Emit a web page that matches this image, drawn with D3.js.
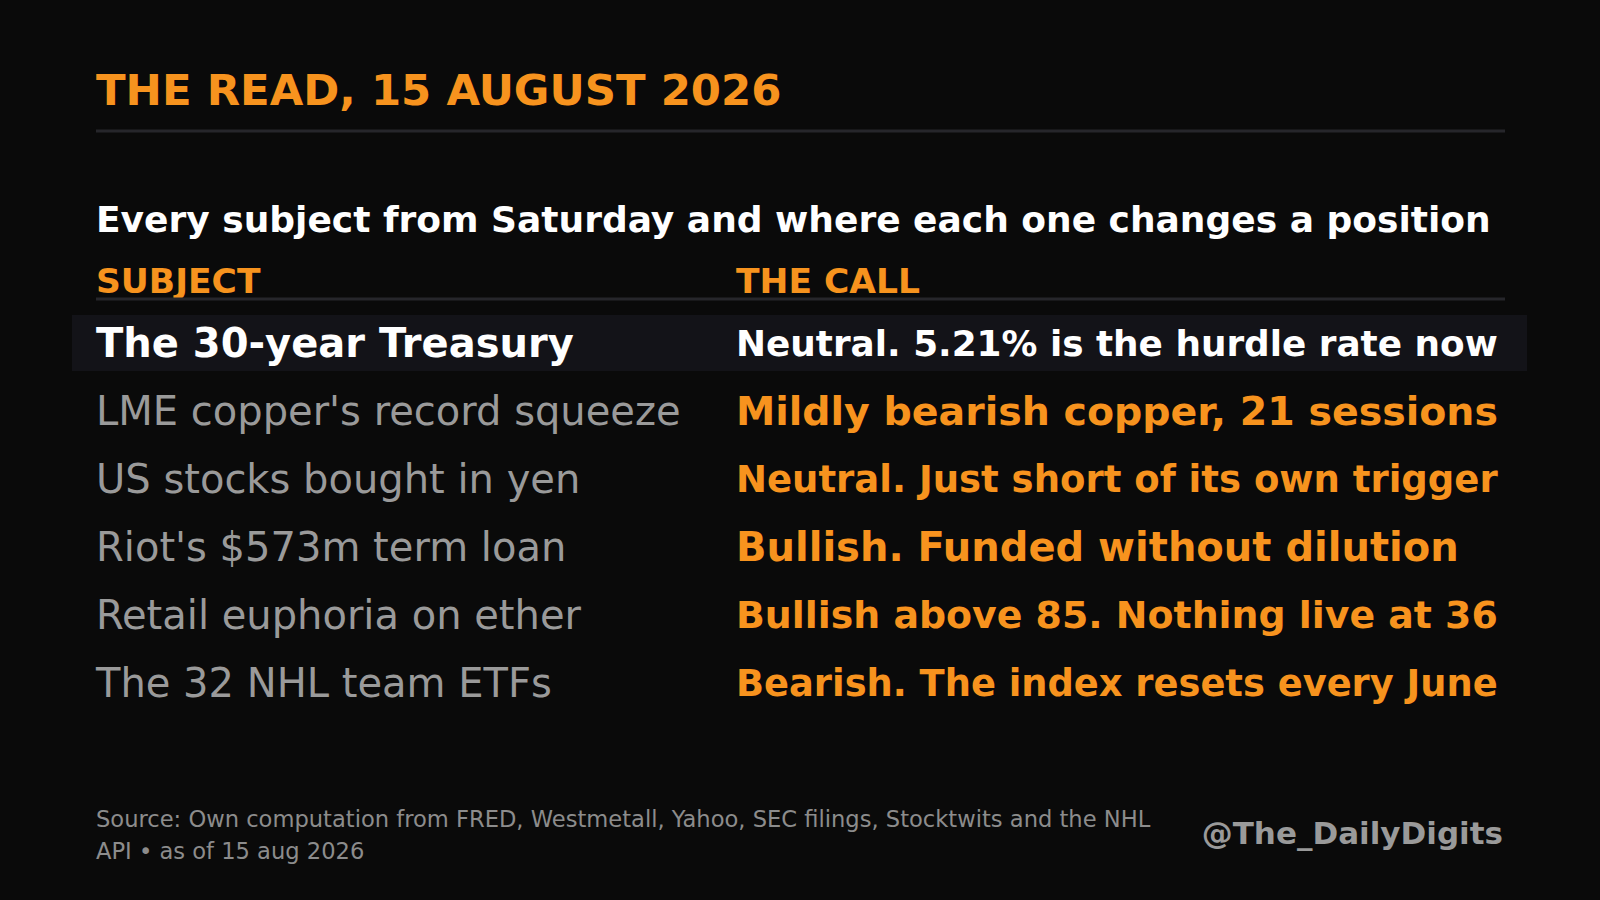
<!DOCTYPE html>
<html>
<head>
<meta charset="utf-8">
<script src="https://cdn.jsdelivr.net/npm/d3@7"></script>
<style>
  html, body { margin: 0; padding: 0; background: #0a0a0a; }
  svg { display: block; font-family: "DejaVu Sans", sans-serif; }
</style>
</head>
<body>
<svg id="chart" width="1600" height="900"></svg>
<script>
// the rows, top to bottom
const subjects = [
  "The 30-year Treasury",
  "LME copper's record squeeze",
  "US stocks bought in yen",
  "Riot's $573m term loan",
  "Retail euphoria on ether",
  "The 32 NHL team ETFs"
];
const calls = [
  "Neutral. 5.21% is the hurdle rate now",
  "Mildly bearish copper, 21 sessions",
  "Neutral. Just short of its own trigger",
  "Bullish. Funded without dilution",
  "Bullish above 85. Nothing live at 36",
  "Bearish. The index resets every June"
];
const highlighted = ["The 30-year Treasury"];

const headers = ["SUBJECT", "THE CALL"];
const title = "THE READ, 15 AUGUST 2026";
const subtitle = "Every subject from Saturday and where each one changes a position";
const source = "Source: Own computation from FRED, Westmetall, Yahoo, SEC filings, Stocktwits and the NHL API \u2022 as of 15 aug 2026";
const handle = "@The_DailyDigits";

const orange = "#f7931e";
const grey = "#9a9a9a";
const ruleColor = "#26262b";

const svg = d3.select('#chart');
const left = 96, right = 1505, callX = 736, callWidth = 762;
const callMax = 40;

svg.append('rect').attr('width', 1600).attr('height', 900).attr('fill', '#0a0a0a');

svg.append('text')
   .attr('x', left).attr('y', 105)
   .attr('fill', orange).attr('font-size', 43.4).attr('font-weight', 'bold')
   .text(title);

svg.append('rect')
   .attr('x', left).attr('y', 129.5).attr('width', right - left).attr('height', 3)
   .attr('fill', ruleColor);

svg.append('text')
   .attr('x', left).attr('y', 232)
   .attr('fill', '#ffffff').attr('font-size', 36).attr('font-weight', 'bold')
   .text(subtitle);

// column headers
const colX = d3.scaleOrdinal().domain(headers).range([left, callX]);
svg.selectAll('text.header')
   .data(headers)
   .enter()
   .append('text')
   .attr('class', 'header')
   .attr('x', (h) => colX(h)).attr('y', 293)
   .attr('fill', orange).attr('font-size', 34.5).attr('font-weight', 'bold')
   .text((h) => h);

svg.append('rect')
   .attr('x', left).attr('y', 297.5).attr('width', right - left).attr('height', 3)
   .attr('fill', ruleColor);

// rows
const y = d3.scaleBand()
            .domain(subjects)
            .range([315, 711])
            .paddingInner(12 / 68)
            .paddingOuter(0);

const rows = subjects.map((s, i) => ({ subject: s, call: calls[i], hi: highlighted.includes(s) }));

svg.selectAll('rect.band')
   .data(rows.filter((r) => r.hi))
   .enter()
   .append('rect')
   .attr('class', 'band')
   .attr('x', 72).attr('y', (r) => y(r.subject))
   .attr('width', 1455).attr('height', y.bandwidth())
   .attr('fill', '#131318');

const mid = (r) => y(r.subject) + y.bandwidth() / 2;

svg.selectAll('text.subject')
   .data(rows)
   .enter()
   .append('text')
   .attr('class', 'subject')
   .attr('x', left)
   .attr('y', (r) => mid(r) + 40 * 0.35)
   .attr('font-size', 40)
   .attr('font-weight', (r) => r.hi ? 'bold' : 'normal')
   .attr('fill', (r) => r.hi ? '#ffffff' : grey)
   .text((r) => r.subject);

// calls shrink to fit their column
svg.selectAll('text.call')
   .data(rows)
   .enter()
   .append('text')
   .attr('class', 'call')
   .attr('x', callX)
   .attr('font-size', callMax)
   .attr('font-weight', 'bold')
   .attr('fill', (r) => r.hi ? '#ffffff' : orange)
   .text((r) => r.call)
   .each(function (r) {
     const t = d3.select(this);
     const len = this.getComputedTextLength();
     const fs = len > callWidth ? callMax * callWidth / len : callMax;
     t.attr('font-size', fs).attr('y', mid(r) + fs * 0.35);
   });

// footer
const src = svg.append('text')
               .attr('x', left).attr('y', 827)
               .attr('fill', '#8c8c8c').attr('font-size', 22.6);
const words = source.split(' ');
let line = [];
let tspan = src.append('tspan').attr('x', left).attr('dy', 0);
words.forEach((w) => {
  line.push(w);
  tspan.text(line.join(' '));
  if (tspan.node().getComputedTextLength() > 1085 && line.length > 1) {
    line.pop();
    tspan.text(line.join(' '));
    line = [w];
    tspan = src.append('tspan').attr('x', left).attr('dy', 32).text(w);
  }
});

svg.append('text')
   .attr('x', 1503).attr('y', 844)
   .attr('text-anchor', 'end')
   .attr('fill', grey).attr('font-size', 31).attr('font-weight', 'bold')
   .text(handle);
</script>
</body>
</html>
